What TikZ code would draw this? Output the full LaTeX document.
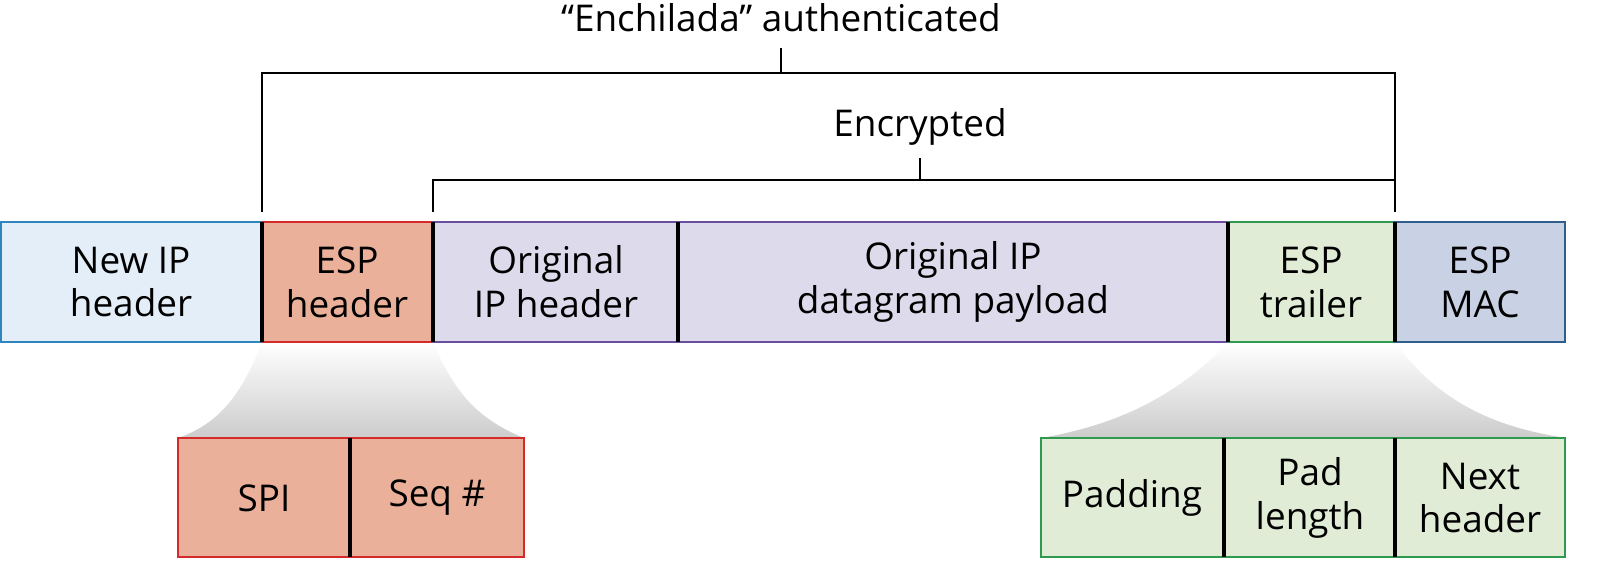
\documentclass[tikz,border=0pt]{standalone}
\usepackage{fontspec}
\setmainfont{Open Sans}
\begin{document}
\begin{tikzpicture}[x=0.02cm,y=-0.02cm,
  lbl/.style={font=\fontsize{21}{25}\selectfont,align=center,text=black},
  sep/.style={line width=1.8pt,black},
  br/.style={line width=0.7pt,black},
  fan/.style={top color=white,bottom color=black!20,draw=none}]
\definecolor{nbF}{HTML}{E3EEF8}\definecolor{nbD}{HTML}{2F86BF}
\definecolor{ehF}{HTML}{EBB09A}\definecolor{ehD}{HTML}{D42A2A}
\definecolor{opF}{HTML}{DDDAEC}\definecolor{opD}{HTML}{6A4FA0}
\definecolor{etF}{HTML}{E1ECD6}\definecolor{etD}{HTML}{2E9A4E}
\definecolor{mcF}{HTML}{C9D1E4}\definecolor{mcD}{HTML}{2F5E8E}
% fans
\path[fan] (262,342) .. controls (240,400) and (215,425) .. (178,438) -- (524,438) .. controls (480,420) and (455,395) .. (433,342) -- cycle;
\path[fan] (1228,342) .. controls (1170,405) and (1100,428) .. (1041,438) -- (1566,438) .. controls (1500,428) and (1440,405) .. (1395,342) -- cycle;
% main row
\draw[fill=nbF,draw=nbD,line width=1pt] (1,222) rectangle (262,342);
\draw[fill=ehF,draw=ehD,line width=1pt] (262,222) rectangle (433,342);
\draw[fill=opF,draw=opD,line width=1pt] (433,222) rectangle (1228,342);
\draw[fill=etF,draw=etD,line width=1pt] (1228,222) rectangle (1395,342);
\draw[fill=mcF,draw=mcD,line width=1pt] (1395,222) rectangle (1565,342);
\foreach \x in {262,433,678,1228,1395} \draw[sep] (\x,222) -- (\x,342);
\node[lbl] (nip) at (131,282) {New IP\\header};
\node[lbl] (esph) at (347,282) {ESP\\header};
\node[lbl] (oiph) at (556,282) {Original\\IP header};
\node[lbl] (oipp) at (953,282) {Original IP\\datagram payload};
\node[lbl] (espt) at (1311,282) {ESP\\trailer};
\node[lbl] (espm) at (1480,282) {ESP\\MAC};
% bottom left
\draw[fill=ehF,draw=ehD,line width=1pt] (178,438) rectangle (524,557);
\draw[sep] (350,438) -- (350,557);
\node[lbl] (spi) at (264,498) {SPI};
\node[lbl] (seq) at (437,498) {Seq \#};
% bottom right
\draw[fill=etF,draw=etD,line width=1pt] (1041,438) rectangle (1565,557);
\foreach \x in {1224,1395} \draw[sep] (\x,438) -- (\x,557);
\node[lbl] (pad) at (1132,498) {Padding};
\node[lbl] (padl) at (1310,498) {Pad\\length};
\node[lbl] (nxt) at (1480,498) {Next\\header};
% brackets
\draw[br] (262,212) -- (262,73) -- (1395,73) -- (1395,212);
\draw[br] (781,73) -- (781,48);
\draw[br] (433,212) -- (433,180) -- (1395,180);
\draw[br] (920,180) -- (920,158);
\node[lbl] (auth) at (781,18) {“Enchilada” authenticated};
\node[lbl] (enc) at (920,127) {Encrypted};
\pgfresetboundingbox
\useasboundingbox (0,0) rectangle (1606,573);
\end{tikzpicture}
\end{document}
